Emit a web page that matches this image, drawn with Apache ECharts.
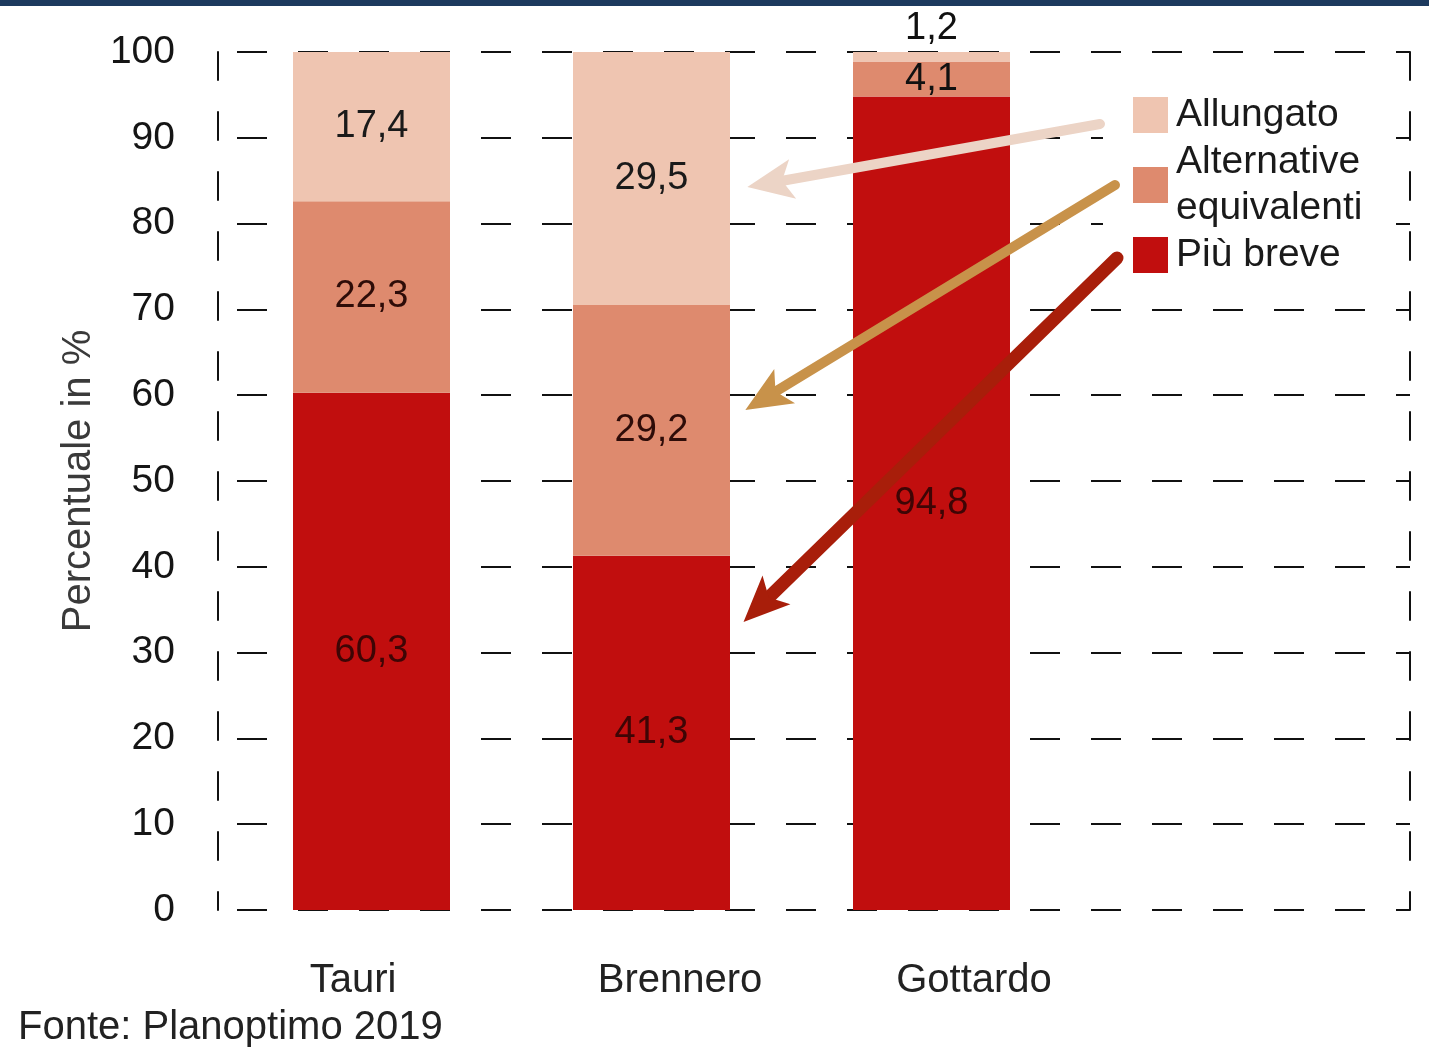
<!DOCTYPE html>
<html>
<head>
<meta charset="utf-8">
<style>
html,body{margin:0;padding:0;background:#fff;}
#chart{width:1429px;height:1048px;}
</style>
<script src="https://cdn.jsdelivr.net/npm/echarts@6/dist/echarts.min.js"></script>
</head>
<body>
<div id="chart"></div>
<script>
// ---- data ----
var categories = ['Tauri', 'Brennero', 'Gottardo'];
var piuBreve = [60.3, 41.3, 94.8];
var alternative = [22.3, 29.2, 4.1];
var allungato = [17.4, 29.5, 1.2];
var yTicks = [0, 10, 20, 30, 40, 50, 60, 70, 80, 90, 100];
var seriesNames = ['Più breve', 'Alternative\nequivalenti', 'Allungato'];
var legendOrder = ['Allungato', 'Alternative\nequivalenti', 'Più breve'];

var REG = "'Liberation Sans',Arial,sans-serif";

var colDark = '#c10e0e', colMid = '#de8a6e', colLight = '#efc5b1';

function fmt(v){ return String(v).replace('.', ','); }

function labelFor(color){
  return {show:true, position:'inside', fontFamily:REG, fontSize:38, color:color,
          formatter:function(p){return fmt(p.value);}};
}

var labelPad = [[0,37,0,0],[0,0,0,57],[0,0,0,85]];
var xData = categories.map(function(c,i){return {value:c, textStyle:{padding:labelPad[i]}};});

var allungatoData = allungato.map(function(v,i){
  if (i === 2) return {value:v, label:{position:'top', distance:4, color:'#111'}};
  return v;
});
var altData = alternative.map(function(v,i){
  if (i === 2) return {value:v, label:{color:'#111'}};
  return v;
});

var ARROW = 'path://M0,0L15,30L0,23L-15,30Z';

var chart = echarts.init(document.getElementById('chart'), null, {renderer:'canvas'});
chart.setOption({
  animation:false,
  backgroundColor:'#fff',
  title:{text:'Fonte: Planoptimo 2019', left:18, top:1008, padding:0,
         textStyle:{fontFamily:REG, fontSize:40, fontWeight:'normal', color:'#222'}},
  graphic:[{type:'rect', left:0, top:0, shape:{width:1429, height:6}, style:{fill:'#1d3a5e'}}],
  grid:[
    {left:218, right:19, top:52, bottom:138},
    {left:231.5, width:840, top:52, bottom:138}
  ],
  legend:{
    data:legendOrder, orient:'vertical', left:1103, top:84,
    itemWidth:35, itemHeight:36, itemGap:1, padding:[8,14,8,30],
    backgroundColor:'#fff', icon:'rect', selectedMode:false,
    textStyle:{fontFamily:REG, fontSize:39, lineHeight:46, color:'#1a1a1a', padding:[0,0,0,3]}
  },
  xAxis:[
    {gridIndex:0, type:'value', show:false, min:0, max:1},
    {gridIndex:1, type:'category', data:xData,
     axisLine:{show:false}, axisTick:{show:false},
     axisLabel:{margin:48, fontFamily:REG, fontSize:40, lineHeight:46, color:'#222'}}
  ],
  yAxis:[
    {gridIndex:0, type:'value', min:yTicks[0], max:yTicks[yTicks.length-1], interval:10,
     name:'Percentuale in %', nameLocation:'middle', nameGap:117, nameRotate:90,
     nameTextStyle:{fontFamily:REG, fontSize:40, color:'#3a3a3a'},
     axisLabel:{margin:43, fontFamily:REG, fontSize:39, color:'#151515'},
     axisLine:{show:true, lineStyle:{color:'#111', width:2, type:[28,32], dashOffset:10}},
     axisTick:{show:false},
     splitLine:{show:true, lineStyle:{color:'#111', width:2, type:[30,31], dashOffset:42}}},
    {gridIndex:0, type:'value', position:'right', min:0, max:100, interval:10,
     axisLabel:{show:false}, axisTick:{show:false}, splitLine:{show:false},
     axisLine:{show:true, lineStyle:{color:'#111', width:2, type:[28,32], dashOffset:10}}},
    {gridIndex:1, type:'value', min:0, max:100, show:false, splitLine:{show:false}}
  ],
  series:[
    {name:seriesNames[0], type:'bar', stack:'s', xAxisIndex:1, yAxisIndex:2, barWidth:157,
     itemStyle:{color:colDark}, label:labelFor('#3e0505'), data:piuBreve},
    {name:seriesNames[1], type:'bar', stack:'s', xAxisIndex:1, yAxisIndex:2, barWidth:157,
     itemStyle:{color:colMid}, label:labelFor('#2e0c08'), data:altData},
    {name:seriesNames[2], type:'bar', stack:'s', xAxisIndex:1, yAxisIndex:2, barWidth:157,
     itemStyle:{color:colLight}, label:labelFor('#1a1a1a'), data:allungatoData,
     markLine:{
       silent:true, symbol:['none', ARROW], symbolSize:[40,46], z:20,
       label:{show:false}, emphasis:{disabled:true},
       data:[
         [{x:1100, y:124, lineStyle:{color:'#ecd4c6', width:10, cap:'round', type:'solid'}},
          {x:770, y:183}],
         [{x:1115, y:185, lineStyle:{color:'#c8924a', width:10, cap:'round', type:'solid'}},
          {x:765, y:398}],
         [{x:1117, y:258, lineStyle:{color:'#a81e0a', width:13, cap:'round', type:'solid'}},
          {x:760, y:606}]
       ]
     }}
  ]
});
</script>
</body>
</html>
